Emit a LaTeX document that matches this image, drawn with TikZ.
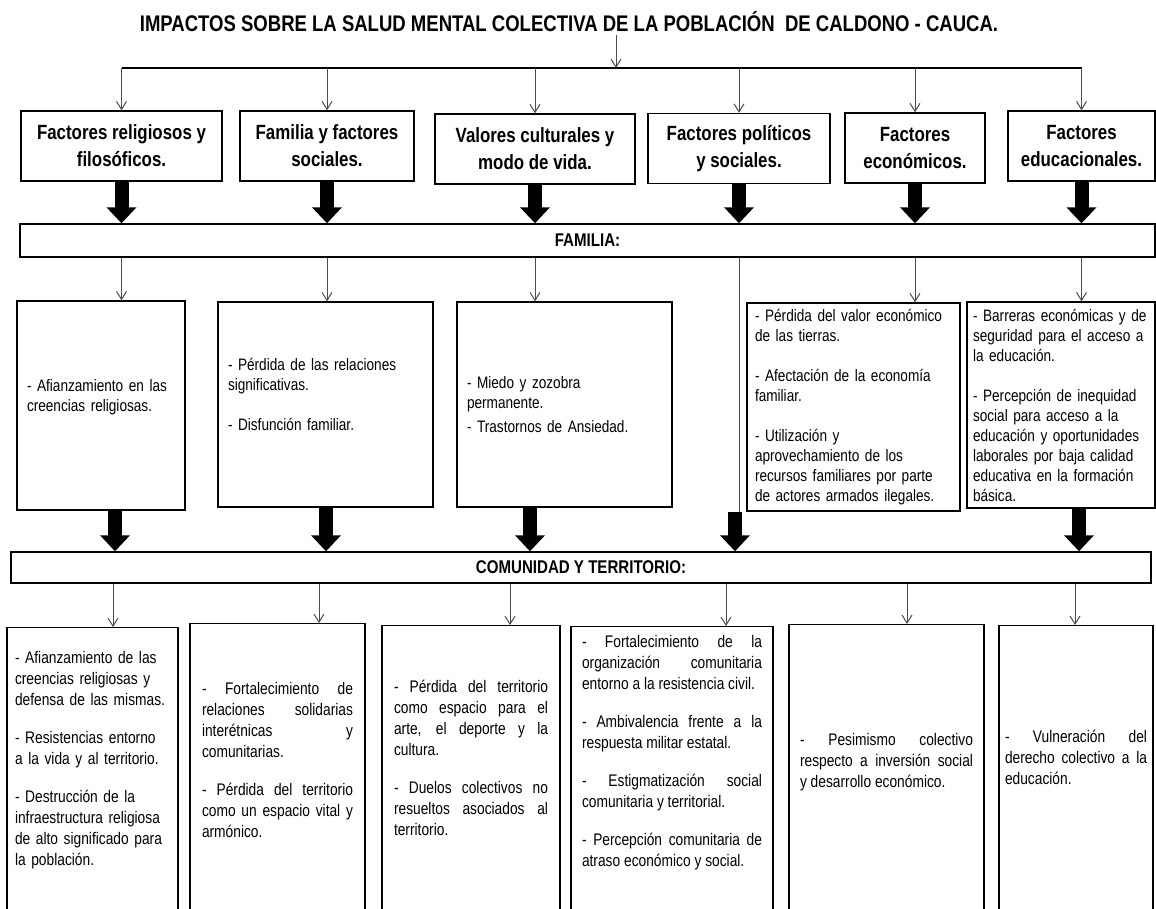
\documentclass[tikz,border=0pt]{standalone}
\usepackage{fontspec}
\setmainfont{Liberation Sans}[FakeStretch=0.82]
\usetikzlibrary{arrows.meta}
\hyphenpenalty=10000
\exhyphenpenalty=10000

\begin{document}
\begin{tikzpicture}[x=0.5pt,y=-0.5pt,
  thinarrow/.style={->,>={Straight Barb[length=4pt,width=5pt]},line width=0.5,black!70},
  blockarrow/.style={->,>={Triangle[length=8pt,width=14.5pt]},line width=7},
  factor/.style={draw,line width=0.7,align=center,minimum height=35pt,inner sep=2pt,
    font=\fontsize{10.3}{13.5}\selectfont\bfseries},
  bar/.style={draw,line width=0.7,inner sep=0pt,font=\fontsize{9.2}{11}\selectfont\bfseries},
  effect/.style={draw,line width=0.7,inner xsep=5pt,inner ysep=2pt,align=left,
    font=\fontsize{8.3}{10}\selectfont},
  impact/.style={draw,line width=0.7,inner xsep=5.5pt,anchor=north,minimum height=155pt,
    font=\fontsize{8.4}{10.5}\selectfont}]
  \path[use as bounding box,fill=white] (0, 0) rectangle (1156, 909);

  \node[font=\fontsize{11.3}{13}\selectfont\bfseries,inner sep=1pt] at (569, 22) (Title)
  {IMPACTOS SOBRE LA SALUD MENTAL COLECTIVA DE LA POBLACIÓN~ DE CALDONO - CAUCA.};

  \node[factor,minimum width=100.5pt] at (121.5, 146) (FRel) {Factores religiosos y\\filosóficos.};
  \node[factor,minimum width=87pt] at (327, 146) (FFam) {Familia y factores\\sociales.};
  \node[factor,minimum width=100pt] at (535, 149) (FCult) {Valores culturales y\\modo de vida.};
  \node[factor,minimum width=91pt] at (739, 148.5) (FPol) {Factores políticos\\y sociales.};
  \node[factor,minimum width=70pt] at (915, 148) (FEcon) {Factores\\económicos.};
  \node[factor,minimum width=73.5pt] at (1081.5, 146) (FEdu) {Factores\\educacionales.};

  \coordinate (Split) at (616, 68);
  \draw[thinarrow] (Title.south -| Split) -- (Split);
  \draw[line width=0.9] (FRel.north |- Split) -- (FEdu.north |- Split);
  \foreach \n in {FRel,FFam,FCult,FPol,FEcon,FEdu}
    \draw[thinarrow] (\n.north |- Split) -- (\n.north);

  \node[bar,minimum width=567.5pt,minimum height=16.5pt] at (587.5, 240.5) (FamiliaBar) {FAMILIA:};
  \foreach \n in {FRel,FFam,FCult,FPol,FEcon,FEdu}
    \draw[blockarrow] (\n.south) -- (\n.south |- FamiliaBar.north);

  \node[effect,text width=74pt,minimum height=104.5pt] at (101, 405.5) (MRel)
  {- Afianzamiento en las\\creencias religiosas.\par\rule{0pt}{8pt}};
  \node[effect,text width=97.5pt,minimum height=102.5pt] at (325.5, 404.5) (MFam)
  {- Pérdida de las relaciones\\significativas.\\[10pt]- Disfunción familiar.\par\rule{0pt}{9pt}};
  \node[effect,text width=97.5pt,minimum height=102.5pt] at (564.5, 404.5) (MCult)
  {- Miedo y zozobra\\permanente.\\[2pt]- Trastornos de Ansiedad.};
  \node[effect,inner xsep=4pt,text width=98.5pt,minimum height=104pt] at (853.5, 407) (MEcon)
  {- Pérdida del valor económico\\de las tierras.\\[10pt]- Afectación de la economía\\familiar.\\[10pt]- Utilización y\\aprovechamiento de los\\recursos familiares por parte\\de actores armados ilegales.};
  \node[effect,inner xsep=3pt,text width=88pt,minimum height=103pt] at (1061, 405) (MEdu)
  {- Barreras económicas y de\\seguridad para el acceso a\\la educación.\\[10pt]- Percepción de inequidad\\social para acceso a la\\educación y oportunidades\\laborales por baja calidad\\educativa en la formación\\básica.};

  \foreach \n/\m in {FRel/MRel,FFam/MFam,FCult/MCult,FEcon/MEcon,FEdu/MEdu}
    \draw[thinarrow] (\n.center |- FamiliaBar.south) -- (\n.center |- \m.north);
  \draw[line width=0.5,black!70] (FPol.center |- FamiliaBar.south) -- (FPol.center |- MEcon.south);

  \node[bar,minimum width=570pt,minimum height=15.5pt] at (581, 567.5) (ComunidadBar) {COMUNIDAD Y TERRITORIO:};
  \foreach \m/\x in {MRel/115,MFam/326,MCult/530,MEcon/735,MEdu/1079}
    \draw[blockarrow] (\x,0 |- \m.south) -- (\x,0 |- ComunidadBar.north);

  \node[impact,align=left,inner xsep=4pt,text width=77.5pt] at (92.5, 627) (CRel)
  {- Afianzamiento de las\\creencias religiosas y\\defensa de las mismas.\\[8.5pt]- Resistencias entorno\\a la vida y al territorio.\\[8.5pt]- Destrucción de la\\infraestructura religiosa\\de alto significado para\\la población.\par\rule{0pt}{21.5pt}};
  \node[impact,align=justify,inner xsep=6pt,text width=75.5pt] at (277.5, 623) (CFam)
  {- Fortalecimiento de\linebreak relaciones solidarias\linebreak interétnicas y\linebreak comunitarias.\\[8.5pt]- Pérdida del territorio\linebreak como un espacio vital y\linebreak armónico.\par\rule{0pt}{18pt}};
  \node[impact,align=justify,inner xsep=6pt,text width=77pt] at (471, 625) (CCult)
  {- Pérdida del territorio\linebreak como espacio para el\linebreak arte, el deporte y la\linebreak cultura.\\[8.5pt]- Duelos colectivos no\linebreak resueltos asociados al\linebreak territorio.\par\rule{0pt}{22pt}};
  \node[impact,align=justify,text width=90pt] at (672, 626) (CPol)
  {- Fortalecimiento de la\linebreak organización comunitaria\linebreak entorno a la resistencia civil.\\[8.5pt]- Ambivalencia frente a la\linebreak respuesta militar estatal.\\[8.5pt]- Estigmatización social\linebreak comunitaria y territorial.\\[8.5pt]- Percepción comunitaria de\linebreak atraso económico y social.\par\rule{0pt}{28pt}};
  \node[impact,align=justify,text width=86.5pt] at (886.5, 624) (CEcon)
  {- Pesimismo colectivo\linebreak respecto a inversión social\linebreak y desarrollo económico.\par\rule{0pt}{17pt}};
  \node[impact,align=justify,inner xsep=3pt,text width=71pt] at (1076, 625) (CEdu)
  {- Vulneración del\linebreak derecho colectivo a la\linebreak educación.\par\rule{0pt}{22pt}};

  \foreach \c/\x in {CRel/113,CFam/319,CCult/510,CPol/726,CEcon/907,CEdu/1075}
    \draw[thinarrow] (\x,0 |- ComunidadBar.south) -- (\x,0 |- \c.north);
\end{tikzpicture}
\end{document}
